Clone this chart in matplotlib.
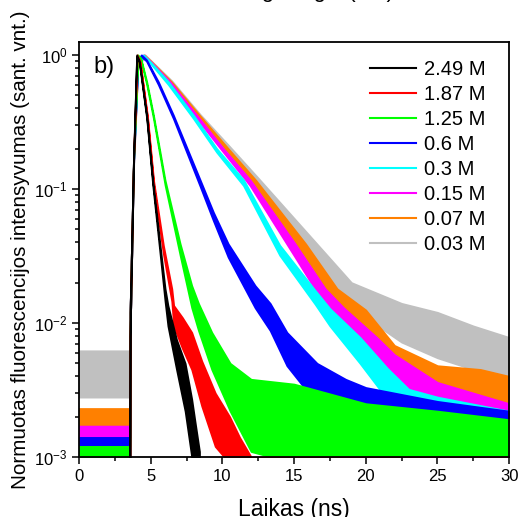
import matplotlib as mpl
mpl.use('Agg')
import matplotlib.pyplot as plt
from matplotlib.lines import Line2D
from matplotlib.ticker import LogLocator, MultipleLocator

plt.rcParams['font.family'] = ['Liberation Sans', 'DejaVu Sans']
plt.rcParams['axes.unicode_minus'] = False

labels = ["2.49 M", "1.87 M", "1.25 M", "0.6 M", "0.3 M", "0.15 M", "0.07 M", "0.03 M"]
colors = ["#000000", "#ff0000", "#00ff00", "#0000ff", "#00ffff", "#ff00ff", "#ff8000", "#c0c0c0"]

# time (ns), lower and upper edge of each noisy decay trace
t_black = [0, 3.54, 3.56, 3.8, 4.02, 4.2, 4.72, 5.14, 5.65, 6.0, 6.2, 6.8, 7.4, 7.86, 8.1, 8.4]
lo_black = [5e-4, 5e-4, 8e-3, 0.16, 0.97, 0.88, 0.335, 0.107, 0.033, 0.0145, 0.0095, 0.0045, 0.0022, 0.0010, 0.0008, 0.0008]
hi_black = [5e-4, 5e-4, 1.2e-2, 0.17, 1.0, 0.9, 0.35, 0.115, 0.038, 0.018, 0.0135, 0.0075, 0.005, 0.0027, 0.0018, 0.0011]

t_red = [0, 3.54, 3.56, 3.8, 4.05, 4.25, 4.77, 5.2, 5.88, 6.47, 6.6, 7.2, 7.86, 8.56, 9.5, 10.5, 11.2, 12.0, 30]
lo_red = [5e-4, 5e-4, 8e-3, 0.16, 0.97, 0.88, 0.335, 0.107, 0.033, 0.0145, 0.0095, 0.0065, 0.0045, 0.0024, 0.0012, 0.0009, 0.0008, 0.0008, 0.0008]
hi_red = [5e-4, 5e-4, 1.2e-2, 0.17, 1.0, 0.9, 0.35, 0.115, 0.038, 0.018, 0.0135, 0.011, 0.0085, 0.0052, 0.003, 0.002, 0.0014, 0.001, 0.001]

t_green = [0, 3.54, 3.56, 3.8, 4.1, 4.3, 4.72, 5.19, 6.0, 7.05, 7.86, 8.33, 9.26, 10.54, 12, 15, 20, 25, 30]
lo_green = [8e-4, 8e-4, 8e-3, 0.16, 0.97, 0.93, 0.6, 0.335, 0.107, 0.032, 0.013, 0.0088, 0.0045, 0.0022, 0.0011, 0.0009, 0.0008, 0.0008, 0.0008]
hi_green = [1.2e-3, 1.2e-3, 1.2e-2, 0.17, 1.0, 0.95, 0.63, 0.355, 0.116, 0.039, 0.019, 0.014, 0.0085, 0.005, 0.0038, 0.0035, 0.0025, 0.0022, 0.0019]

t_blue = [0, 3.54, 3.56, 3.8, 4.1, 4.35, 4.7, 5.53, 6.58, 8.44, 9.37, 10.4, 12.28, 13.33, 14.5, 16.6, 18.6, 20, 25, 30]
lo_blue = [9e-4, 9e-4, 8e-3, 0.16, 0.9, 0.97, 0.9, 0.6, 0.335, 0.105, 0.058, 0.031, 0.013, 0.0088, 0.0048, 0.0025, 0.0017, 0.0012, 0.001, 0.0009]
hi_blue = [1.4e-3, 1.4e-3, 1.2e-2, 0.17, 0.93, 1.0, 0.92, 0.63, 0.355, 0.117, 0.067, 0.039, 0.019, 0.014, 0.0085, 0.005, 0.0038, 0.0033, 0.0026, 0.0022]

t_cyan = [0, 3.54, 3.56, 3.8, 4.1, 4.5, 5.0, 6.23, 7.98, 9.6, 11.47, 14.0, 16.47, 17.5, 19.6, 21.5, 23, 25, 30]
lo_cyan = [9e-4, 9e-4, 8e-3, 0.15, 0.85, 0.98, 0.86, 0.6, 0.335, 0.188, 0.106, 0.032, 0.0138, 0.0095, 0.005, 0.0027, 0.0016, 0.0011, 0.0009]
hi_cyan = [1.3e-3, 1.3e-3, 1.2e-2, 0.16, 0.88, 1.0, 0.88, 0.63, 0.355, 0.2, 0.117, 0.038, 0.0175, 0.0128, 0.0078, 0.0046, 0.0032, 0.0028, 0.0022]

t_mag = [0, 3.54, 3.56, 3.8, 4.1, 4.5, 5.0, 6.35, 8.21, 10.07, 11.93, 15.07, 17.17, 18.45, 20.77, 22, 25, 30]
lo_mag = [9e-4, 9e-4, 8e-3, 0.15, 0.85, 0.98, 0.87, 0.6, 0.335, 0.188, 0.106, 0.031, 0.0135, 0.0094, 0.005, 0.0034, 0.0016, 0.001]
hi_mag = [1.7e-3, 1.7e-3, 1.2e-2, 0.16, 0.88, 1.0, 0.89, 0.63, 0.355, 0.2, 0.117, 0.039, 0.018, 0.013, 0.0078, 0.0058, 0.0036, 0.0025]

t_orange = [0, 3.54, 3.56, 3.8, 4.1, 4.55, 5.0, 6.45, 8.4, 10.4, 12.3, 15.8, 18.0, 20, 22, 25, 28, 30]
lo_orange = [1e-3, 1e-3, 8e-3, 0.15, 0.85, 0.98, 0.88, 0.6, 0.335, 0.188, 0.106, 0.031, 0.0135, 0.0085, 0.0045, 0.003, 0.0024, 0.002]
hi_orange = [2.3e-3, 2.3e-3, 1.2e-2, 0.16, 0.88, 1.0, 0.9, 0.63, 0.355, 0.2, 0.117, 0.039, 0.018, 0.0125, 0.0068, 0.0048, 0.0045, 0.004]

t_gray = [0, 3.54, 3.56, 3.8, 4.1, 4.6, 5.0, 6.47, 8.44, 10.54, 12.51, 16.4, 19.0, 22.5, 25, 27.5, 30]
lo_gray = [2.8e-3, 2.8e-3, 8e-3, 0.14, 0.82, 0.97, 0.88, 0.6, 0.335, 0.188, 0.106, 0.031, 0.013, 0.0072, 0.0055, 0.0045, 0.0033]
hi_gray = [6.2e-3, 6.2e-3, 1.3e-2, 0.155, 0.86, 1.0, 0.91, 0.64, 0.36, 0.205, 0.12, 0.041, 0.02, 0.014, 0.012, 0.0095, 0.0078]

series = [
    (t_black, lo_black, hi_black),
    (t_red, lo_red, hi_red),
    (t_green, lo_green, hi_green),
    (t_blue, lo_blue, hi_blue),
    (t_cyan, lo_cyan, hi_cyan),
    (t_mag, lo_mag, hi_mag),
    (t_orange, lo_orange, hi_orange),
    (t_gray, lo_gray, hi_gray),
]

fig = plt.figure(figsize=(5.2, 5.17), dpi=100)
ax = fig.add_axes([0.152, 0.116, 0.827, 0.803])

# slowest trace first so the fast ones end up on top
for i in range(len(series) - 1, -1, -1):
    t, lo, hi = series[i]
    ax.fill_between(t, lo, hi, facecolor=colors[i], edgecolor=colors[i], linewidth=1.3)

ax.set_yscale('log')
ax.set_xlim(0, 30)
ax.set_ylim(1e-3, 1.25)
ax.xaxis.set_major_locator(MultipleLocator(5))
ax.xaxis.set_minor_locator(MultipleLocator(2.5))
ax.yaxis.set_major_locator(LogLocator(base=10, numticks=10))
ax.yaxis.set_minor_locator(LogLocator(base=10, subs=range(2, 10), numticks=20))
ax.tick_params(which='both', direction='out', top=False, right=False, labelsize=12, width=1.1)
ax.tick_params(which='major', length=5)
ax.tick_params(which='minor', length=3)
for s in ax.spines.values():
    s.set_linewidth(1.3)

ax.set_xlabel("Laikas (ns)", fontsize=16.5, labelpad=10)
ax.set_ylabel("Normuotas fluorescencijos intensyvumas (sant. vnt.)", fontsize=14.9, labelpad=3)
ax.text(0.033, 0.925, "b)", transform=ax.transAxes, fontsize=17)

handles = [Line2D([], [], color=c, lw=1.5) for c in colors]
ax.legend(handles, labels, loc='upper left', bbox_to_anchor=(0.677, 0.956), frameon=False,
          fontsize=14.5, handlelength=2.3, handletextpad=0.35, labelspacing=0.3,
          borderaxespad=0, borderpad=0)

# bottom edge of a label from the panel above, cut by the crop
fig.text(308 / 520, 1.0 + 3 / 517, "Bangos ilgis (nm)", ha='center', va='baseline', fontsize=16)

plt.savefig("out.png", dpi=100)
plt.close()
